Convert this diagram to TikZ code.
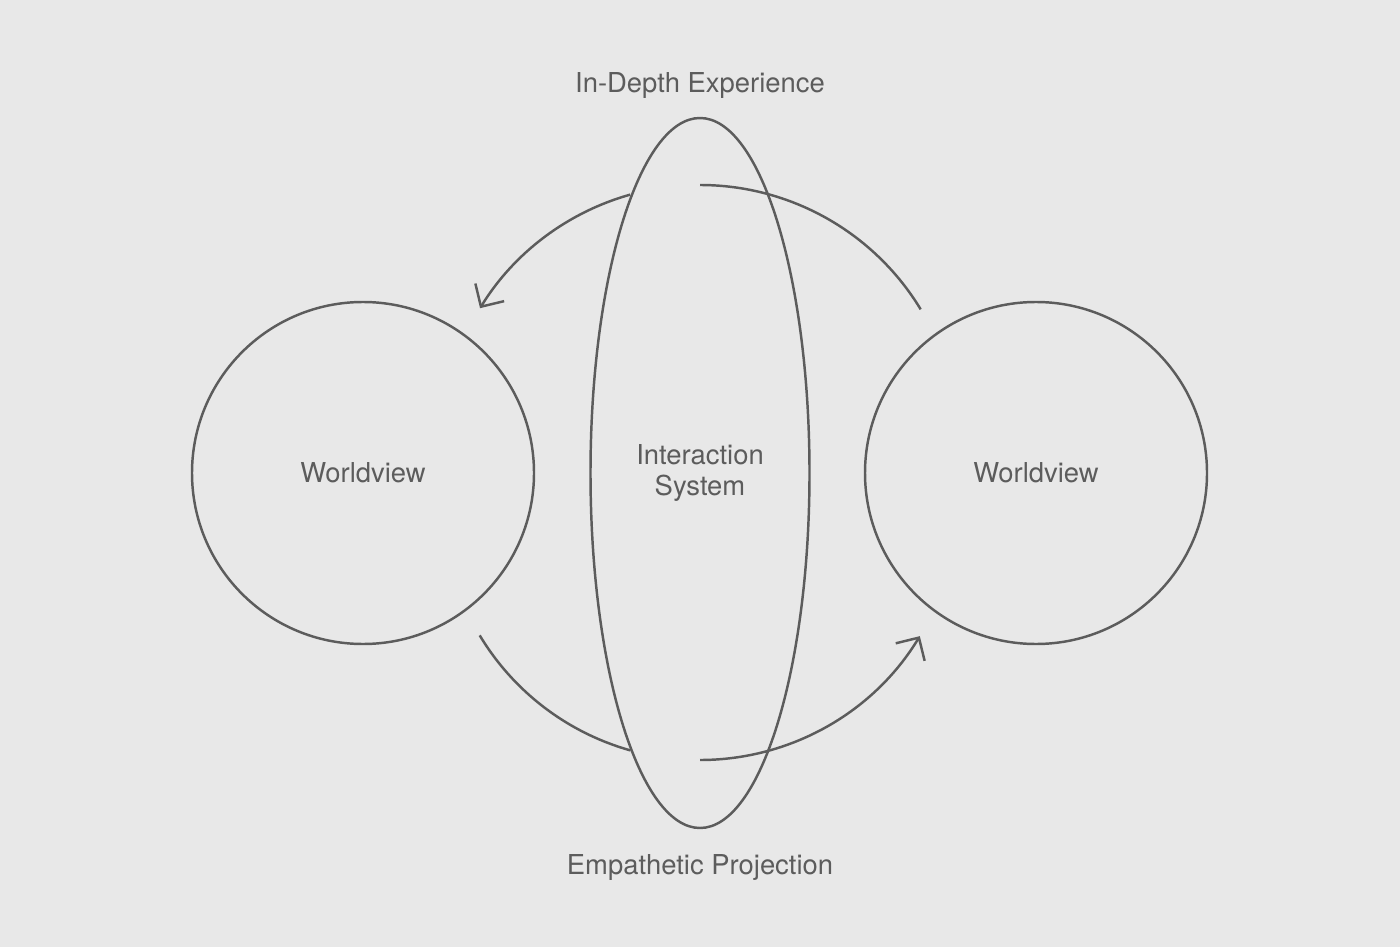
\documentclass[tikz,border=0pt]{standalone}
\usepackage{fontspec}
\setmainfont{TeX Gyre Heros}
\usetikzlibrary{arrows.meta,positioning,shapes.geometric}
\definecolor{Ink}{HTML}{5C5C5C}
\definecolor{Paper}{HTML}{E8E8E8}

\begin{document}
\begin{tikzpicture}[
  txt/.style={text=Ink,font=\fontsize{7.8}{8.9}\selectfont,align=center},
  world/.style={circle,draw=Ink,line width=0.7pt,minimum size=3.42cm,txt},
  system/.style={ellipse,draw=Ink,line width=0.7pt,minimum width=2.19cm,minimum height=7.1cm,inner sep=0pt,txt},
  flow/.style={draw=Ink,line width=0.7pt},
  tip/.style={flow,-{Straight Barb[length=4.8pt,width=9.6pt]}}
]
\fill[Paper] (0,0) rectangle (14,-9.47);
\useasboundingbox (0,0) rectangle (14,-9.47);
\node[world] (wvleft) at (3.63,-4.73) {Worldview};
\node[world] (wvright) at (10.36,-4.73) {Worldview};
\node[system] (sys) at (7.0,-4.73) {Interaction\\System};
\node[txt] (depth) at (7.0,-0.85) {In-Depth Experience};
\node[txt] (proj) at (7.0,-8.67) {Empathetic Projection};
% centres of the two flow arcs
\coordinate (upC) at (7.0,-4.43);
\coordinate (lowC) at (7.0,-5.03);
% upper flow: right worldview back to left one
\draw[flow] ([shift={(90:2.58)}]upC) arc[start angle=90,end angle=31.2,radius=2.58];
\draw[tip] ([shift={(105.7:2.58)}]upC) arc[start angle=105.7,end angle=148.5,radius=2.58];
% lower flow: left worldview over to right one
\draw[flow] ([shift={(-149:2.57)}]lowC) arc[start angle=-149,end angle=-105.7,radius=2.57];
\draw[tip] ([shift={(-90:2.57)}]lowC) arc[start angle=-90,end angle=-31.2,radius=2.57];
\end{tikzpicture}
\end{document}
